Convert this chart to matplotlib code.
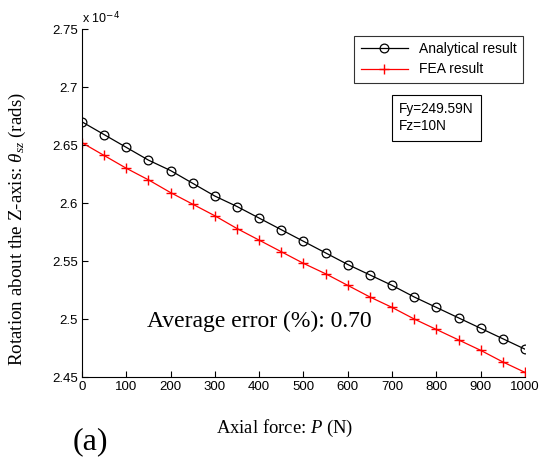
import matplotlib.pyplot as plt
import numpy as np

# axial force P (N)
force = [0, 50, 100, 150, 200, 250, 300, 350, 400, 450, 500,
         550, 600, 650, 700, 750, 800, 850, 900, 950, 1000]
# rotation values in units of 1e-4 rad
analytical = [2.670, 2.659, 2.648, 2.637, 2.628, 2.617, 2.606, 2.597, 2.587, 2.577, 2.567,
              2.557, 2.547, 2.538, 2.529, 2.519, 2.510, 2.501, 2.492, 2.483, 2.474]
fea = [2.652, 2.641, 2.630, 2.620, 2.609, 2.599, 2.589, 2.578, 2.568, 2.558, 2.548,
       2.539, 2.529, 2.519, 2.510, 2.500, 2.491, 2.482, 2.473, 2.463, 2.454]

plt.rcParams["font.family"] = ["Liberation Sans", "DejaVu Sans"]
plt.rcParams["mathtext.fontset"] = "custom"
plt.rcParams["mathtext.it"] = "Liberation Serif:italic"
plt.rcParams["mathtext.rm"] = "Liberation Serif"

fig = plt.figure(figsize=(5.39, 4.57), dpi=100)
ax = fig.add_axes([0.152, 0.175, 0.822, 0.7615])

ax.plot(force, analytical, color="black", linewidth=0.9, marker="o",
        markersize=6.3, markerfacecolor="none", markeredgewidth=0.9,
        label="Analytical result")
ax.plot(force, fea, color="red", linewidth=0.9, marker="+",
        markersize=7, markeredgewidth=1.0, label="FEA result")

ax.set_xlim(0, 1000)
ax.set_ylim(2.45, 2.75)
ax.set_xticks(np.arange(0, 1001, 100))
ax.set_yticks([2.45, 2.5, 2.55, 2.6, 2.65, 2.7, 2.75])
ax.set_yticklabels(["2.45", "2.5", "2.55", "2.6", "2.65", "2.7", "2.75"])
ax.tick_params(direction="in", length=4, labelsize=9.5, pad=3)
ax.spines["top"].set_visible(False)
ax.spines["right"].set_visible(False)

ax.text(0.0, 1.012, r"x 10$^{\mathsf{-4}}$", transform=ax.transAxes,
        fontsize=9, ha="left", va="bottom")

ax.set_ylabel(r"Rotation about the Z-axis: $\theta_{sz}$ (rads)",
              family="Liberation Serif", fontsize=13.7)
ax.yaxis.set_label_coords(-0.122, 0.424)
fig.text(0.528, 0.063, r"Axial force: $P$ (N)", family="Liberation Serif",
         fontsize=13.4, ha="center", va="center")
fig.text(0.135, 0.033, "(a)", family="Liberation Serif", fontsize=23,
         ha="left", va="center")

ax.text(147, 2.498, "Average error (%): 0.70", family="Liberation Serif",
        fontsize=17, ha="left", va="center")

leg = ax.legend(loc="upper right", bbox_to_anchor=(1.011, 1.0), fontsize=10,
                frameon=True, fancybox=False, edgecolor="black",
                handlelength=3.4, borderpad=0.45, labelspacing=0.45)
leg.get_frame().set_linewidth(0.8)

ax.text(0.716, 0.79, "Fy=249.59N\nFz=10N", transform=ax.transAxes,
        fontsize=9.8, ha="left", va="top", linespacing=1.3,
        bbox=dict(boxstyle="square,pad=0.55", facecolor="white",
                  edgecolor="black", linewidth=0.8))

fig.savefig("out.png", dpi=100)
